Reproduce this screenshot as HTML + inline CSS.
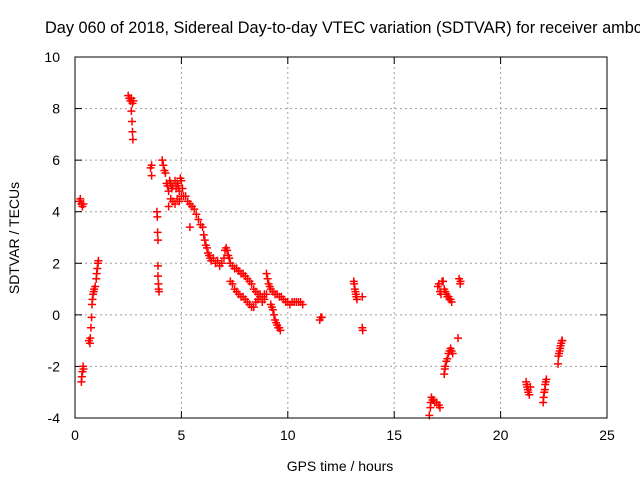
<!DOCTYPE html>
<html><head><meta charset="utf-8"><style>
body{margin:0;background:#fff;overflow:hidden;}
svg{display:block;font-family:"Liberation Sans",sans-serif;}
</style></head><body>
<svg id="chart" width="640" height="480">
<text x="45" y="33" font-size="16.3" fill="#000">Day 060 of 2018, Sidereal Day-to-day VTEC variation (SDTVAR) for receiver ambc</text>
<text x="340" y="471" font-size="14" text-anchor="middle">GPS time / hours</text>
<text transform="translate(19,238) rotate(-90)" font-size="14" text-anchor="middle">SDTVAR / TECUs</text>
<g id="grid"></g><g id="ticks"></g><g id="pts"></g>
<rect x="75" y="57" width="532" height="361" fill="none" stroke="#000"/>
</svg>
<script>
const xTicks=[0,5,10,15,20,25];
const yTicks=[-4,-2,0,2,4,6,8,10];
const hours=[0.2,0.25,0.3,0.35,0.4,0.3,0.32,0.35,0.38,0.4,
0.65,0.7,0.72,0.75,0.78,0.8,0.82,0.85,0.88,0.9,0.95,1.0,1.02,1.05,1.08,1.1,
2.5,2.55,2.6,2.65,2.7,2.65,2.68,2.7,2.72,2.75,
3.55,3.6,3.6,3.85,3.87,3.88,3.9,3.9,3.9,3.92,3.93,3.95,
4.1,4.15,4.2,4.25,4.3,4.35,4.4,4.45,4.5,4.55,4.6,4.7,4.75,4.8,4.85,4.9,4.95,5.0,5.05,5.1,4.4,4.5,4.6,4.7,4.8,4.9,5.0,
5.2,5.3,5.4,5.5,5.6,5.7,5.8,5.9,6.0,6.05,6.1,6.15,6.2,6.25,6.3,6.35,6.4,6.5,6.6,6.7,6.8,6.9,5.4,
7.0,7.05,7.1,7.15,7.2,7.25,7.3,7.4,7.5,7.6,7.7,7.8,7.9,8.0,8.1,8.2,8.3,8.4,8.5,8.6,8.7,8.8,8.9,9.0,
7.3,7.4,7.5,7.6,7.7,7.8,7.9,8.0,8.1,8.2,8.3,8.4,8.5,8.6,8.7,8.8,8.9,
9.0,9.05,9.1,9.15,9.2,9.3,9.4,9.5,9.6,9.7,9.8,9.9,10.0,10.1,10.2,10.3,10.4,10.5,10.6,10.7,
9.2,9.25,9.3,9.35,9.4,9.45,9.5,9.55,9.6,9.65,
11.5,11.55,11.6,
13.1,13.12,13.15,13.18,13.2,13.22,13.25,13.5,13.5,13.52,
16.65,16.7,16.72,16.75,16.8,16.85,16.9,17.0,17.1,17.15,
17.05,17.1,17.15,17.2,17.25,17.3,17.35,17.4,17.45,17.5,17.55,17.6,17.65,17.7,
17.35,17.38,17.4,17.45,17.5,17.55,17.6,17.65,17.7,17.75,18.0,18.05,18.1,18.12,
21.2,21.22,21.25,21.28,21.3,21.35,21.4,
22.0,22.02,22.05,22.08,22.1,22.12,22.15,
22.7,22.72,22.75,22.78,22.8,22.82,22.85,22.88,22.9];
const values=[4.4,4.5,4.3,4.2,4.3,-2.6,-2.4,-2.2,-2.0,-2.1,
-1.0,-1.1,-0.9,-0.5,-0.1,0.4,0.6,0.8,0.9,1.0,1.1,1.4,1.6,1.8,2.0,2.1,
8.5,8.4,8.3,8.4,8.2,7.9,7.5,7.1,6.8,8.3,
5.7,5.8,5.4,4.0,3.8,3.2,2.9,1.9,1.5,1.2,1.0,0.9,
6.0,5.8,5.6,5.5,5.1,5.0,4.8,5.2,5.1,4.9,5.0,5.2,4.9,5.1,5.0,4.8,5.3,5.2,4.9,4.6,4.2,4.5,4.4,4.3,4.5,4.4,4.6,
4.6,4.4,4.3,4.2,4.1,3.9,3.7,3.5,3.4,3.1,2.9,2.7,2.6,2.4,2.3,2.2,2.1,2.2,2.0,2.1,1.9,2.0,3.4,
2.2,2.5,2.6,2.5,2.3,2.2,2.0,1.9,1.8,1.8,1.7,1.6,1.6,1.5,1.4,1.3,1.2,1.0,0.9,0.8,0.8,0.7,0.8,0.8,
1.3,1.2,1.0,0.9,0.8,0.7,0.7,0.6,0.5,0.4,0.3,0.3,0.5,0.6,0.7,0.5,0.6,
1.6,1.4,1.2,1.1,1.0,0.9,0.8,0.8,0.7,0.7,0.6,0.5,0.5,0.4,0.5,0.5,0.5,0.5,0.5,0.4,
0.4,0.3,0.2,0.0,-0.2,-0.3,-0.4,-0.5,-0.5,-0.6,
-0.2,-0.1,-0.1,
1.3,1.2,1.0,0.9,0.8,0.7,0.6,0.7,-0.5,-0.6,
-3.9,-3.6,-3.4,-3.2,-3.3,-3.3,-3.4,-3.4,-3.5,-3.6,
1.1,1.2,0.9,0.8,1.3,1.3,1.0,0.9,0.8,0.7,0.7,0.6,0.6,0.5,
-2.3,-2.1,-2.0,-1.8,-1.7,-1.5,-1.4,-1.3,-1.4,-1.5,-0.9,1.4,1.2,1.3,
-2.6,-2.7,-2.8,-2.9,-3.0,-3.1,-2.8,
-3.4,-3.2,-3.0,-2.9,-2.7,-2.6,-2.5,
-1.9,-1.6,-1.5,-1.4,-1.3,-1.2,-1.1,-1.0,-1.0];
const X=h=>75+h*532/25, Y=v=>418-(v+4)*361/14;
const NS="http://www.w3.org/2000/svg";
const grid=document.getElementById('grid'),ticks=document.getElementById('ticks'),pts=document.getElementById('pts');
function ln(p,x1,y1,x2,y2,st,dash){const l=document.createElementNS(NS,'line');l.setAttribute('x1',x1);l.setAttribute('y1',y1);l.setAttribute('x2',x2);l.setAttribute('y2',y2);l.setAttribute('stroke',st);if(dash)l.setAttribute('stroke-dasharray',dash);p.appendChild(l);return l;}
function tx(x,y,s,anchor){const t=document.createElementNS(NS,'text');t.setAttribute('x',x);t.setAttribute('y',y);t.setAttribute('font-size','14');t.setAttribute('text-anchor',anchor);t.textContent=s;ticks.appendChild(t);return t;}
xTicks.forEach(v=>{const x=X(v);
 if(v>0&&v<25){const g=ln(grid,x,57,x,418,'#a0a0a0','2,3');
 
 }
 ln(ticks,x,418,x,411,'#000');ln(ticks,x,57,x,64,'#000');
 const t=tx(x,440,String(v),'middle');
 
 });
yTicks.forEach(v=>{const y=Y(v);
 if(v>-4&&v<10){const g=ln(grid,75,y,607,y,'#a0a0a0','2,3');
 
 }
 ln(ticks,75,y,82,y,'#000');ln(ticks,607,y,600,y,'#000');
 const t=tx(60,y+5,String(v),'end');
 
 });
hours.forEach((h,i)=>{const x=X(h),y=Y(values[i]);
 const p=document.createElementNS(NS,'path');
 p.setAttribute('d',`M${x-4},${y}H${x+4}M${x},${y-4}V${y+4}`);
 p.setAttribute('stroke','#ff0000');p.setAttribute('stroke-width','1.5');
 
 
 pts.appendChild(p);});
</script>
</body></html>
